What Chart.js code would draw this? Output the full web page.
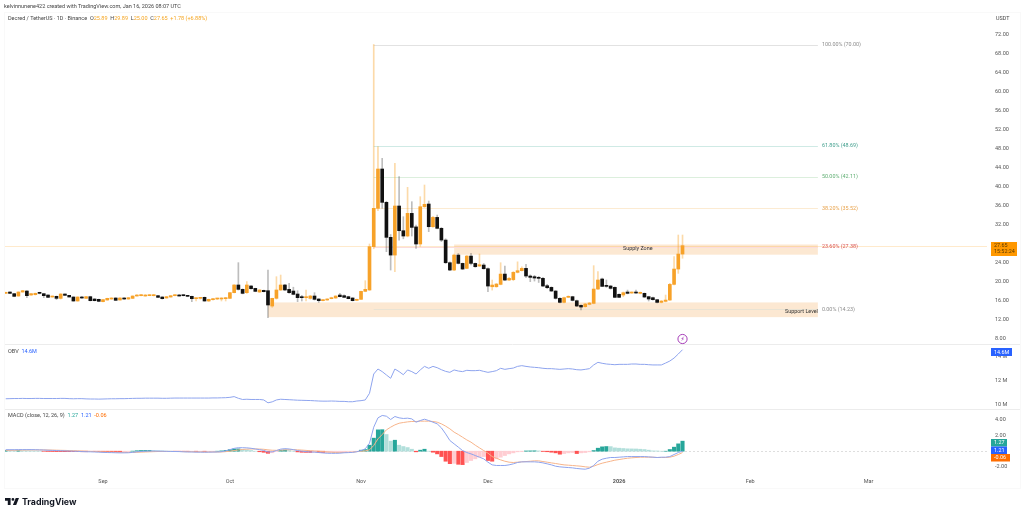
<!DOCTYPE html>
<html><head><meta charset="utf-8">
<script src="https://cdn.jsdelivr.net/npm/chart.js@4/dist/chart.umd.min.js"></script>
<style>
html,body{margin:0;padding:0;background:#fff;width:1024px;height:515px;overflow:hidden;font-family:Roboto,sans-serif}
#wrap{position:relative;width:1024px;height:515px;filter:blur(0.3px)}
canvas{position:absolute;left:0;top:0}
.t{position:absolute;white-space:nowrap;font-size:5.5px;color:#444;line-height:7px}
.o{color:#f5a623}.bl{color:#2962ff}.te{color:#26a69a}.or{color:#ff6d00}
#brand{position:absolute;left:22px;top:495px;font:700 8.8px Inter,sans-serif;color:#131722;line-height:14px}
#logo{position:absolute;left:5px;top:498px}
</style></head><body>
<div id="wrap">
<canvas id="c" width="1024" height="515"></canvas>
<div class="t" style="left:4px;top:2.5px">kelvinnunene422 created with TradingView.com, Jan 16, 2026 08:07 UTC</div>
<div class="t" style="left:8px;top:14.5px">Decred / TetherUS · 1D · Binance &nbsp;O<span class="o">25.89</span> &nbsp;H<span class="o">29.89</span> &nbsp;L<span class="o">25.00</span> &nbsp;C<span class="o">27.65 &nbsp;+1.78 (+6.88%)</span></div>
<div class="t" style="left:8px;top:347.5px">OBV &nbsp;<span class="bl">14.6M</span></div>
<div class="t" style="left:8px;top:411.5px">MACD (close, 12, 26, 9) &nbsp;<span class="te">1.27</span> &nbsp;<span class="bl">1.21</span> &nbsp;<span class="or">-0.06</span></div>
<svg id="logo" width="14" height="7" viewBox="2 6 30 15"><path fill="#131722" d="M14 6H2v6h6v9h6V6Zm12 15h-7l6-15h7l-6 15Zm-7-9a3 3 0 1 0 0-6 3 3 0 0 0 0 6Z"/></svg>
<div id="brand">TradingView</div>
</div>
<script>
const opens=[17.61,17.89,17.54,17.05,17.89,18.10,17.26,17.33,17.75,17.54,
17.26,16.84,16.98,16.56,17.47,17.19,16.84,16.00,16.84,16.56,
16.91,16.42,16.35,15.86,16.21,16.42,16.63,16.21,16.63,16.42,
16.56,17.05,17.12,17.05,17.12,17.12,17.12,16.84,16.63,16.84,
17.12,17.26,17.19,17.12,16.98,16.49,16.56,16.77,16.00,16.28,
16.42,16.42,16.49,16.56,17.75,19.37,18.45,17.75,19.16,18.66,
17.89,18.24,18.17,14.94,16.56,18.32,19.37,18.45,18.10,17.47,
16.84,16.70,16.56,17.05,16.42,16.07,16.21,16.49,16.63,17.26,
17.12,16.91,16.63,16.14,16.35,18.03,18.32,27.44,35.51,43.79,
36.77,29.40,25.67,36.00,30.80,29.68,34.45,31.60,28.00,35.85,
36.42,31.64,33.60,31.30,28.83,24.06,22.52,25.67,23.92,22.87,
25.46,23.92,23.36,23.57,22.80,19.00,19.00,19.50,21.67,20.41,
20.50,22.03,22.38,22.87,21.26,21.12,20.91,20.77,19.22,18.87,
18.10,16.56,15.71,16.77,16.91,16.06,15.08,14.80,15.29,15.50,
18.52,20.63,19.22,19.15,18.87,17.40,17.26,17.89,17.68,17.82,
17.61,17.61,16.91,16.70,16.28,15.71,15.92,16.20,19.50,22.73,25.89];
const closes=[17.82,17.61,16.98,17.89,18.17,17.12,17.54,17.61,17.61,17.12,
16.77,16.98,16.56,17.47,17.19,16.84,16.00,16.84,16.63,16.91,
16.07,16.07,15.93,16.28,16.56,16.63,16.14,16.63,16.42,16.70,
17.05,17.19,17.26,17.19,17.19,17.26,16.77,16.49,16.91,17.12,
17.26,17.05,17.12,16.98,16.49,16.63,16.70,16.00,16.35,16.49,
16.56,16.63,16.70,17.75,19.37,18.45,17.61,19.37,18.59,18.03,
18.32,17.96,15.16,16.56,18.32,19.37,18.32,17.75,17.40,16.70,
16.70,16.84,17.05,16.35,16.07,16.28,16.42,16.70,17.05,16.91,
16.77,16.49,16.07,16.35,18.03,18.45,27.44,35.51,43.79,36.77,
29.40,25.67,36.00,30.80,29.68,34.45,31.50,28.00,35.85,36.35,
31.64,33.60,31.30,28.83,24.06,22.52,25.67,23.92,22.73,25.46,
23.92,23.22,23.64,22.80,19.15,19.36,19.57,21.67,20.41,20.76,
22.03,22.38,22.87,21.26,20.98,20.84,20.77,19.15,18.80,18.10,
16.56,15.71,16.70,16.98,16.13,14.94,14.73,15.36,15.57,18.52,
20.42,19.08,19.08,18.66,16.77,16.77,17.75,17.61,17.82,17.68,
17.82,16.84,16.42,16.28,15.71,15.99,16.20,19.50,22.73,25.89,27.65];
const highs=[17.90,17.95,17.60,17.95,18.25,18.20,17.60,17.70,17.85,17.60,
17.30,17.05,17.05,17.55,17.50,17.20,16.90,16.90,17.00,17.00,
17.00,16.50,16.40,16.35,16.60,16.70,16.70,16.70,16.70,16.75,
17.10,17.35,17.40,17.35,17.35,17.40,17.20,16.90,16.95,17.15,
17.35,17.40,17.30,17.20,17.05,16.65,16.75,16.85,16.40,16.55,
16.60,16.70,16.75,17.80,19.45,24.07,18.55,20.07,19.25,18.70,
18.40,18.30,22.52,16.60,21.12,21.47,19.50,19.72,18.90,18.17,
17.20,18.32,17.20,17.75,16.50,16.35,16.50,16.80,17.10,17.60,
17.30,17.00,16.70,16.40,18.10,20.28,28.00,70.00,48.49,46.04,
37.00,30.00,44.98,42.17,33.75,39.93,36.91,32.00,37.96,40.42,
37.05,33.80,34.10,31.50,29.10,24.25,25.90,26.00,24.00,25.60,
26.03,24.00,25.89,23.90,23.00,20.41,19.70,24.06,23.36,21.00,
22.20,24.25,23.20,23.70,21.50,21.40,21.20,21.00,19.50,19.00,
18.20,16.70,16.80,17.10,17.00,16.20,15.20,15.50,15.70,23.44,
22.17,20.80,20.42,19.30,19.00,17.50,17.90,18.30,17.90,18.30,
17.90,17.70,17.00,16.80,16.30,16.10,17.26,19.70,25.33,29.89,29.89];
const lows=[17.55,17.55,16.90,17.00,17.85,16.70,17.20,17.25,17.50,16.70,
16.70,16.80,16.30,16.40,17.15,16.80,15.95,15.95,16.55,16.50,
16.00,16.00,15.85,15.80,16.15,16.35,16.10,16.15,16.35,16.35,
16.50,17.00,17.05,17.00,17.10,17.05,16.70,16.40,16.60,16.80,
17.05,17.00,17.05,16.90,15.86,16.00,16.40,15.95,15.90,16.20,
16.30,16.00,16.00,16.50,17.70,18.30,17.50,17.60,18.50,17.95,
17.80,17.90,12.50,14.66,16.40,18.20,18.20,17.60,17.30,15.86,
16.00,16.00,16.40,16.20,15.70,16.00,16.15,16.45,16.55,16.85,
16.70,16.45,16.00,16.05,16.30,17.95,18.20,27.00,35.00,35.51,
26.38,22.52,22.16,28.83,29.10,29.50,29.68,27.08,27.50,35.70,
30.60,31.50,31.20,28.50,23.90,22.40,22.40,23.80,22.60,22.80,
23.57,23.10,23.30,22.70,17.95,18.30,18.90,19.40,20.30,20.30,
20.27,21.90,22.30,20.90,20.07,20.20,19.90,19.00,18.60,18.00,
16.40,15.60,15.60,16.70,16.00,14.80,14.10,14.70,15.20,15.40,
18.40,19.00,18.87,18.50,16.70,16.70,16.90,17.50,17.60,17.60,
17.50,16.70,16.00,16.20,15.60,15.60,15.80,16.10,19.40,21.82,25.00];
const obv=[10.48,10.49,10.50,10.50,10.51,10.50,10.50,10.51,10.51,10.50,
10.50,10.50,10.50,10.51,10.51,10.49,10.48,10.49,10.49,10.47,
10.46,10.46,10.45,10.46,10.47,10.48,10.48,10.49,10.49,10.50,
10.51,10.52,10.52,10.53,10.53,10.53,10.53,10.52,10.52,10.53,
10.54,10.54,10.54,10.54,10.54,10.54,10.54,10.54,10.54,10.55,
10.55,10.56,10.57,10.60,10.66,10.52,10.42,10.44,10.42,10.42,
10.42,10.38,10.14,10.22,10.38,10.44,10.42,10.40,10.38,10.36,
10.35,10.34,10.33,10.31,10.29,10.28,10.28,10.29,10.28,10.26,
10.26,10.23,10.23,10.29,10.32,10.38,10.94,12.56,12.98,12.76,
12.48,12.20,12.98,12.76,12.50,12.90,12.76,12.56,12.90,13.20,
13.04,13.20,13.09,12.92,12.78,12.70,12.90,12.81,12.76,12.87,
12.84,12.84,12.87,12.78,12.70,12.76,12.84,13.04,12.95,13.01,
13.06,13.20,13.26,13.20,13.15,13.12,13.09,13.04,13.01,13.01,
12.98,12.95,12.98,13.01,12.98,12.92,12.90,12.95,13.01,13.32,
13.54,13.46,13.40,13.37,13.34,13.37,13.37,13.37,13.40,13.40,
13.37,13.37,13.34,13.32,13.32,13.32,13.48,13.65,13.90,14.24,14.60];
const macdLine=[0.19,0.19,0.19,0.20,0.20,0.20,0.20,0.19,0.17,0.15,
0.12,0.10,0.08,0.06,0.04,0.02,0.00,-0.02,-0.05,-0.07,
-0.08,-0.10,-0.12,-0.15,-0.17,-0.18,-0.20,-0.21,-0.21,-0.20,
-0.15,-0.08,-0.03,0.00,0.02,0.02,0.01,0.00,-0.02,-0.03,
-0.04,-0.05,-0.08,-0.10,-0.10,-0.12,-0.12,-0.13,-0.12,-0.11,
-0.10,-0.06,0.05,0.20,0.36,0.44,0.44,0.42,0.37,0.28,
0.20,0.10,-0.10,-0.08,0.08,0.26,0.32,0.28,0.20,0.08,
0.00,-0.05,-0.10,-0.12,-0.17,-0.22,-0.26,-0.27,-0.27,-0.25,
-0.20,-0.18,-0.15,-0.07,0.08,0.30,1.01,3.04,4.22,4.52,
4.43,4.01,4.39,4.22,4.14,4.18,4.09,3.67,3.88,4.05,
3.88,3.67,3.46,2.95,2.19,1.35,0.93,0.51,0.08,-0.17,
-0.34,-0.55,-0.76,-0.97,-1.39,-1.73,-1.81,-1.81,-1.81,-1.73,
-1.60,-1.43,-1.35,-1.35,-1.35,-1.35,-1.39,-1.48,-1.60,-1.73,
-1.90,-1.98,-2.03,-2.07,-2.11,-2.19,-2.24,-2.28,-2.15,-1.81,
-1.27,-1.01,-0.89,-0.80,-0.80,-0.76,-0.72,-0.68,-0.68,-0.68,
-0.68,-0.68,-0.72,-0.76,-0.80,-0.76,-0.76,-0.68,-0.42,-0.17,0.00];
const signalLine=[0.10,0.11,0.12,0.13,0.14,0.15,0.16,0.16,0.16,0.16,
0.15,0.14,0.13,0.11,0.10,0.08,0.06,0.04,0.02,0.00,
-0.02,-0.04,-0.06,-0.08,-0.10,-0.11,-0.13,-0.14,-0.15,-0.16,
-0.16,-0.14,-0.12,-0.10,-0.08,-0.06,-0.04,-0.04,-0.03,-0.03,
-0.03,-0.04,-0.05,-0.06,-0.07,-0.08,-0.09,-0.10,-0.10,-0.10,
-0.10,-0.10,-0.06,0.00,0.08,0.15,0.22,0.26,0.28,0.28,
0.27,0.24,0.17,0.12,0.11,0.14,0.17,0.19,0.19,0.17,
0.14,0.10,0.06,0.03,0.00,-0.05,-0.10,-0.14,-0.17,-0.18,
-0.15,-0.15,-0.13,-0.06,0.00,0.04,0.17,0.72,1.56,2.11,
2.70,3.04,3.33,3.54,3.63,3.71,3.76,3.76,3.80,3.80,
3.80,3.76,3.67,3.46,3.17,2.83,2.41,2.11,1.77,1.43,
1.14,0.76,0.42,0.08,-0.25,-0.68,-0.89,-1.10,-1.27,-1.39,
-1.43,-1.39,-1.35,-1.31,-1.27,-1.22,-1.22,-1.31,-1.39,-1.48,
-1.56,-1.65,-1.73,-1.77,-1.81,-1.86,-1.90,-1.98,-2.03,-1.90,
-1.69,-1.52,-1.39,-1.27,-1.14,-1.06,-0.97,-0.89,-0.84,-0.80,
-0.76,-0.76,-0.76,-0.76,-0.80,-0.80,-0.80,-0.76,-0.63,-0.42,-0.17];
const macdHist=[0.09,0.08,0.07,0.07,0.06,0.05,0.04,0.03,0.01,-0.01,
-0.03,-0.04,-0.05,-0.05,-0.06,-0.06,-0.06,-0.06,-0.07,-0.07,
-0.06,-0.06,-0.06,-0.07,-0.07,-0.07,-0.07,-0.07,-0.06,-0.04,
0.01,0.06,0.09,0.10,0.10,0.08,0.05,0.04,0.01,0.00,
-0.01,-0.01,-0.03,-0.04,-0.03,-0.04,-0.03,-0.03,-0.02,-0.01,
0.00,0.04,0.11,0.20,0.28,0.29,0.22,0.16,0.09,0.00,
-0.07,-0.14,-0.27,-0.20,-0.03,0.12,0.15,0.09,0.01,-0.09,
-0.14,-0.15,-0.16,-0.15,-0.17,-0.17,-0.16,-0.13,-0.10,-0.07,
-0.05,-0.03,-0.02,-0.01,0.13,0.21,0.76,1.65,2.70,2.72,
2.11,1.27,1.39,0.76,0.59,0.46,0.25,-0.08,0.13,0.25,
0.00,-0.13,-0.34,-0.68,-1.27,-1.58,-1.54,-1.66,-1.70,-1.43,
-1.18,-0.97,-0.76,-0.68,-1.18,-1.27,-0.97,-0.76,-0.55,-0.34,
-0.21,-0.08,-0.04,0.03,0.04,0.05,0.04,-0.03,-0.07,-0.13,
-0.21,-0.38,-0.30,-0.21,-0.17,-0.30,-0.21,-0.17,-0.08,0.08,
0.38,0.55,0.59,0.58,0.42,0.38,0.34,0.30,0.29,0.28,
0.25,0.21,0.13,0.04,0.03,0.00,0.00,0.21,0.51,0.93,1.27];

// days counted from 1 Sep 2025
const firstDay=-23;
const monthDays=[0,30,61,91,122,153,181];
const monthLabels=['Sep','Oct','Nov','Dec','2026','Feb','Mar'];
const priceTicks=[8,12,16,20,24,32,36,40,44,48,52,56,60,64,68,72];
const obvTicks=[10,12,14];
const macdTicks=[-2,2,4];
const fibLevels=[70,48.69,42.11,35.52,27.38,14.23];
const fibLabels=['100.00% (70.00)','61.80% (48.69)','50.00% (42.11)','38.20% (35.52)','23.60% (27.38)','0.00% (14.23)'];
const fibLine=['#e2e2e2','#cfeae5','#dcefdd','#fcebd2','#fbdcdc','#e9e3d4'];
const fibText=['#8c8c8c','#3f9e8c','#5fae72','#e8a24a','#d9534f','#8c8c8c'];
const fibStart=64, drawEnd=169;
const supplyZone=[25.75,27.9], supplyStart=83;
const supportZone=[12.6,15.7], supportStart=39;
const lastPrice=27.65, countdown='15:52:24';

const UP='#f7a229', DOWN='#111111', UPW='rgba(247,162,41,.4)', DOWNW='rgba(90,90,90,.4)';
const dayOf=i=>firstDay+i;
const isUp=i=>closes[i]>=opens[i];

const overlay={
 id:'overlay',
 beforeDatasetsDraw(ch){
  const c=ch.ctx,x=ch.scales.x,y=ch.scales.y,m=ch.scales.yMacd,a=ch.chartArea;
  c.save();
  c.strokeStyle='#f9f9f9';c.lineWidth=1;c.strokeRect(4.5,12.5,1016,476);
  c.strokeStyle='#ececec';
  [y.bottom,m.top].forEach(v=>{c.beginPath();c.moveTo(5,Math.round(v)+.5);c.lineTo(1020,Math.round(v)+.5);c.stroke();});
  c.fillStyle='rgba(249,203,156,.45)';
  const zone=(from,z)=>{const l=x.getPixelForValue(from),r=x.getPixelForValue(drawEnd),t=y.getPixelForValue(z[1]),b=y.getPixelForValue(z[0]);c.fillRect(l,t,r-l,b-t);};
  zone(supplyStart,supplyZone);zone(supportStart,supportZone);
  c.strokeStyle='rgba(255,152,0,.2)';c.beginPath();const py=Math.round(y.getPixelForValue(lastPrice))+.5;c.moveTo(5,py);c.lineTo(a.right,py);c.stroke();
  fibLevels.forEach((v,i)=>{const p=Math.round(y.getPixelForValue(v))+.5;c.strokeStyle=fibLine[i];c.beginPath();c.moveTo(x.getPixelForValue(fibStart),p);c.lineTo(x.getPixelForValue(drawEnd),p);c.stroke();});
  c.strokeStyle='#dedede';c.setLineDash([2,2]);const z0=Math.round(m.getPixelForValue(0))+.5;c.beginPath();c.moveTo(5,z0);c.lineTo(a.right,z0);c.stroke();
  c.restore();
 },
 afterDraw(ch){
  const c=ch.ctx,x=ch.scales.x,y=ch.scales.y;
  c.save();
  c.font='5.4px Roboto';c.textBaseline='middle';c.textAlign='left';
  const lx=x.getPixelForValue(drawEnd)+4;
  fibLevels.forEach((v,i)=>{c.fillStyle=fibText[i];c.fillText(fibLabels[i],lx,y.getPixelForValue(v));});
  c.fillStyle='#333';c.fillText('Supply Zone',623,y.getPixelForValue(26.95));
  c.textAlign='right';c.fillText('Support Level',x.getPixelForValue(drawEnd),y.getPixelForValue(13.7));
  c.textAlign='left';
  c.fillStyle='#444';c.fillText('USDT',996,19);
  const flag=(t,h,bg,fg,txt,w,ty)=>{c.fillStyle=bg;c.fillRect(991,t,w,h);c.fillStyle=fg;c.fillText(txt,994,ty);};
  c.fillStyle='#ff9800';c.fillRect(991,242,26,14);
  c.fillStyle='#5a3a00';c.fillText(lastPrice.toFixed(2),994,245.5);c.fillText(countdown,994,252);
  flag(348,8,'#2962ff','#fff','14.6M',21,352.2);
  flag(439,7.5,'#26a69a','#fff','1.27',16,443);
  flag(446.5,7.5,'#2962ff','#fff','1.21',16,450.4);
  flag(454,7.5,'#ff6d00','#fff','-0.06',19,458);
  const bx=x.getPixelForValue(dayOf(opens.length-1)),by=y.getPixelForValue(8);
  c.strokeStyle='#9c27b0';c.lineWidth=.9;c.beginPath();c.arc(bx,by,4.6,0,Math.PI*2);c.fillStyle='#fff';c.fill();c.stroke();
  c.fillStyle='#9c27b0';c.textAlign='center';c.font='6px "DejaVu Sans"';c.fillText('⚡',bx,by+.3);
  c.restore();
 }
};

const pts=arr=>arr.map((v,i)=>({x:dayOf(i),y:v}));
const wicks=highs.map((h,i)=>({x:dayOf(i),y:[lows[i],h]}));
const bodies=opens.map((v,i)=>({x:dayOf(i),y:[v,closes[i]]}));
const histColor=ctx=>{const i=ctx.dataIndex,v=macdHist[i],p=i?macdHist[i-1]:0;
 return v>=0?(v>=p?'#26a69a':'#b2dfdb'):(v<=p?'#ff5252':'#ffcdd2');};
const axisFont={size:5.5,family:'Roboto'};
const yAxis=(weight,lo,hi,ticks,cb)=>({type:'linear',position:'right',stack:'panes',stackWeight:weight,min:lo,max:hi,
 grid:{display:false,drawTicks:false},border:{display:false},
 afterBuildTicks:s=>{s.ticks=ticks.map(v=>({value:v}));},
 afterFit:s=>{s.width=37;},
 ticks:{padding:8,color:'#555',font:axisFont,callback:cb}});

new Chart(document.getElementById('c'),{
 data:{datasets:[
  {type:'bar',data:wicks,yAxisID:'y',barThickness:1,grouped:false,order:3,backgroundColor:c=>isUp(c.dataIndex)?UPW:DOWNW},
  {type:'bar',data:bodies,yAxisID:'y',barThickness:3,grouped:false,minBarLength:1,order:2,backgroundColor:c=>isUp(c.dataIndex)?UP:DOWN},
  {type:'line',data:pts(obv),yAxisID:'yObv',borderColor:'#8ea4ee',borderWidth:1,pointRadius:0,tension:0},
  {type:'bar',data:pts(macdHist),yAxisID:'yMacd',barThickness:3.4,grouped:false,order:2,backgroundColor:histColor},
  {type:'line',data:pts(macdLine),yAxisID:'yMacd',borderColor:'#8ea4ee',borderWidth:1,pointRadius:0,order:1},
  {type:'line',data:pts(signalLine),yAxisID:'yMacd',borderColor:'#f7b48a',borderWidth:1,pointRadius:0,order:1}
 ]},
 options:{responsive:false,animation:false,devicePixelRatio:1,
  layout:{padding:{left:5,top:22,right:0,bottom:0}},
  plugins:{legend:{display:false},tooltip:{enabled:false}},
  scales:{
   x:{type:'linear',offset:false,min:-23.17,max:208.98,grid:{display:false,drawTicks:false,offset:false},border:{display:false},
    afterBuildTicks:s=>{s.ticks=monthDays.map(v=>({value:v}));},
    afterFit:s=>{s.height=42;},
    ticks:{autoSkip:false,maxRotation:0,padding:5,color:'#555',
     font:c=>({size:5.5,family:'Roboto',weight:monthLabels[c.index]==='2026'?'bold':'normal'}),
     callback:(v,i)=>monthLabels[i]}},
   y:yAxis(322,6.947,74.74,priceTicks,v=>v.toFixed(2)),
   yObv:yAxis(65,9.62,15.08,obvTicks,v=>v+' M'),
   yMacd:yAxis(64,-2.76,5.34,macdTicks,v=>v.toFixed(2))
  }},
 plugins:[overlay]
});
</script>
</body></html>
